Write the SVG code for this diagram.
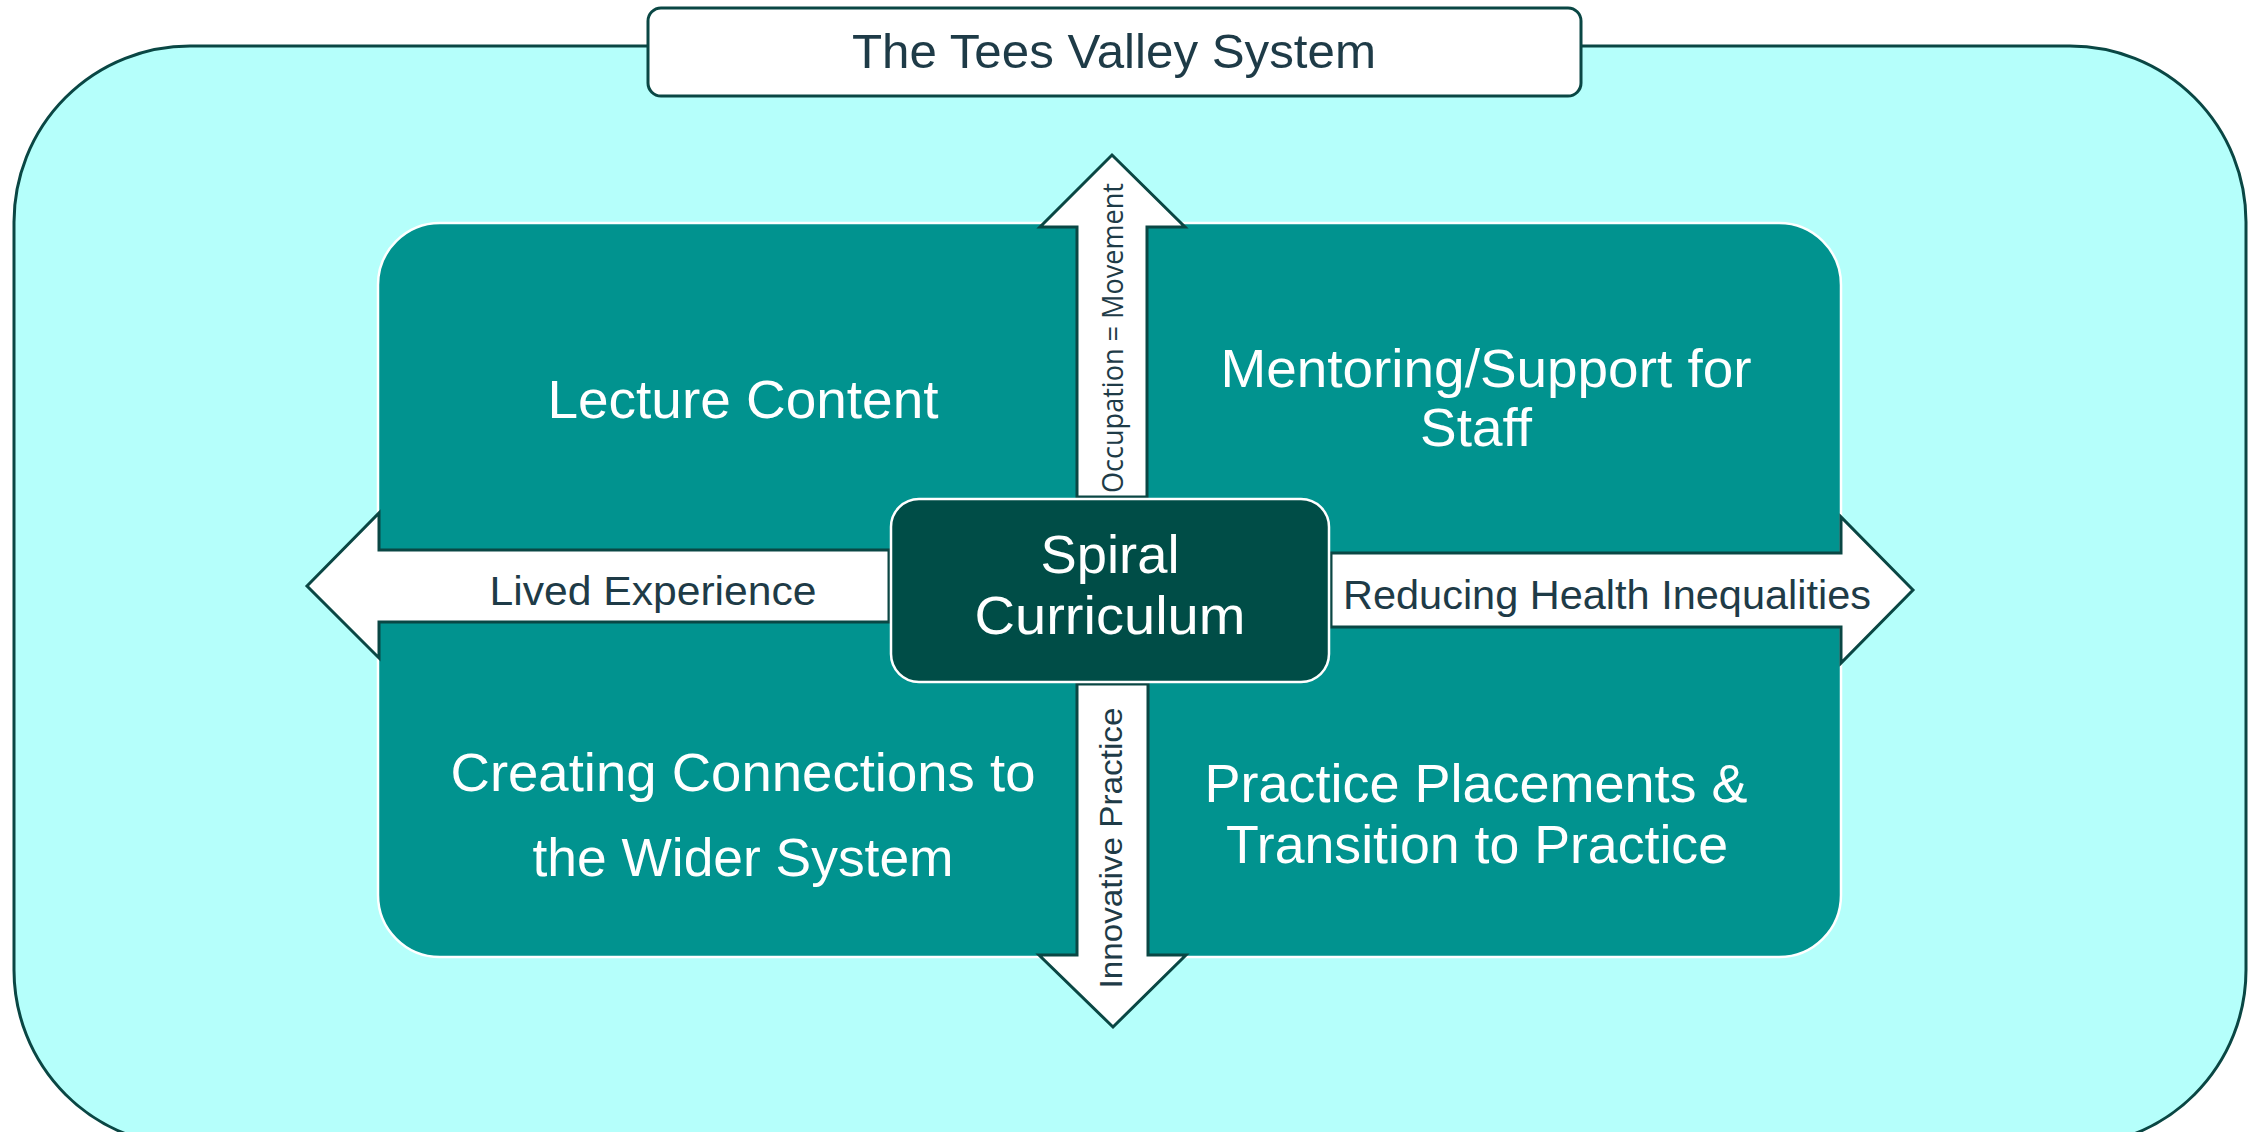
<svg xmlns="http://www.w3.org/2000/svg" width="2262" height="1132" viewBox="0 0 2262 1132">
  <defs>
    <style>
      .frame { fill: #B5FFFB; stroke: #0A4744; stroke-width: 3; }
      .title-box { fill: #FFFFFF; stroke: #0A4744; stroke-width: 3; }
      .quad { fill: #01938F; stroke: #FFFFFF; stroke-width: 2.5; }
      .hub { fill: #004D47; stroke: #FFFFFF; stroke-width: 2.5; }
      .arrow { fill: #FFFFFF; stroke: #0A4744; stroke-width: 3; stroke-linejoin: miter; }
      .t-white { fill: #FFFFFF; font-family: "Liberation Sans", Arial, sans-serif; font-size: 53px; text-anchor: middle; }
      .t-dark { fill: #1E3B47; font-family: "Liberation Sans", Arial, sans-serif; font-size: 41px; text-anchor: middle; }
      .t-title { fill: #1E3B47; font-family: "Liberation Sans", Arial, sans-serif; font-size: 49px; text-anchor: middle; }
      .t-vert { fill: #1E3B47; font-family: "Open Sans", "DejaVu Sans", sans-serif; font-size: 30px; text-anchor: middle; }
      .t-vert2 { fill: #1E3B47; font-family: "Liberation Sans", Arial, sans-serif; font-size: 31px; text-anchor: middle; }
    </style>
  </defs>

  <!-- surrounding system frame -->
  <g id="system-frame">
    <rect class="frame" x="14" y="46" width="2232" height="1100" rx="176" ry="176"/>
  </g>

  <!-- title label -->
  <g id="title">
    <rect class="title-box" x="648" y="8" width="933" height="88" rx="13" ry="13"/>
    <text class="t-title" x="1114" y="68" textLength="524" lengthAdjust="spacingAndGlyphs">The Tees Valley System</text>
  </g>

  <!-- four quadrant panels, each with one rounded outer corner -->
  <g id="lecture-content">
    <path class="quad" d="M378 591 V285 A62 62 0 0 1 440 223 H1110 V591 Z"/>
    <text class="t-white" x="743" y="418" textLength="391" lengthAdjust="spacingAndGlyphs">Lecture Content</text>
  </g>
  <g id="mentoring-support">
    <path class="quad" d="M1110 223 H1779 A62 62 0 0 1 1841 285 V591 H1110 Z"/>
    <text class="t-white" x="1486" y="387" textLength="531" lengthAdjust="spacingAndGlyphs">Mentoring/Support for</text>
    <text class="t-white" x="1476" y="446" textLength="112" lengthAdjust="spacingAndGlyphs">Staff</text>
  </g>
  <g id="creating-connections">
    <path class="quad" d="M378 591 H1110 V957 H440 A62 62 0 0 1 378 895 Z"/>
    <text class="t-white" x="743" y="791" textLength="585" lengthAdjust="spacingAndGlyphs">Creating Connections to</text>
    <text class="t-white" x="743" y="876" textLength="421" lengthAdjust="spacingAndGlyphs">the Wider System</text>
  </g>
  <g id="practice-placements">
    <path class="quad" d="M1110 591 H1841 V895 A62 62 0 0 1 1779 957 H1110 Z"/>
    <text class="t-white" x="1476" y="802" textLength="543" lengthAdjust="spacingAndGlyphs">Practice Placements &amp;</text>
    <text class="t-white" x="1477" y="863" textLength="502" lengthAdjust="spacingAndGlyphs">Transition to Practice</text>
  </g>

  <!-- block arrows leaving the hub -->
  <g id="connectors">
    <g id="arrow-lived-experience">
      <polygon class="arrow" points="307,586 379,513 379,550 889,550 889,622 379,622 379,658"/>
      <text class="t-dark" x="653" y="605" textLength="327" lengthAdjust="spacingAndGlyphs">Lived Experience</text>
    </g>
    <g id="arrow-health-inequalities">
      <polygon class="arrow" points="1913,590 1841,517 1841,553 1331,553 1331,627 1841,627 1841,663"/>
      <text class="t-dark" x="1607" y="609" textLength="528" lengthAdjust="spacingAndGlyphs">Reducing Health Inequalities</text>
    </g>
    <g id="arrow-occupation">
      <polygon class="arrow" points="1112,155 1185,227 1147,227 1147,497 1077,497 1077,227 1040,227"/>
      <text class="t-vert" transform="translate(1123 338) rotate(-90)" x="0" y="0" textLength="310" lengthAdjust="spacingAndGlyphs">Occupation = Movement</text>
    </g>
    <g id="arrow-innovative-practice">
      <polygon class="arrow" points="1113,1027 1186,955 1148,955 1148,684 1077,684 1077,955 1039,955"/>
      <text class="t-vert2" transform="translate(1122 848) rotate(-90)" x="0" y="0" textLength="281" lengthAdjust="spacingAndGlyphs">Innovative Practice</text>
    </g>
  </g>

  <!-- central hub -->
  <g id="spiral-curriculum">
    <rect class="hub" x="891" y="499" width="438" height="183" rx="28" ry="28"/>
    <text class="t-white" x="1110" y="573" textLength="139" lengthAdjust="spacingAndGlyphs">Spiral</text>
    <text class="t-white" x="1110" y="634" textLength="271" lengthAdjust="spacingAndGlyphs">Curriculum</text>
  </g>
</svg>
